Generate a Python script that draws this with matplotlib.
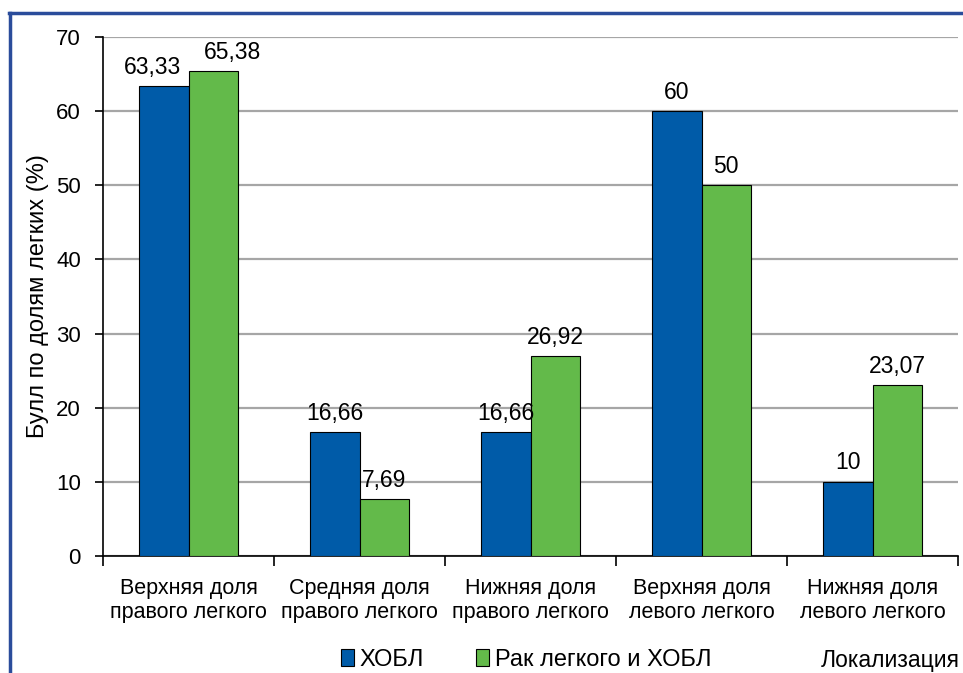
import numpy as np
import matplotlib.pyplot as plt
from matplotlib.lines import Line2D

categories = ['Верхняя доля\nправого легкого', 'Средняя доля\nправого легкого',
              'Нижняя доля\nправого легкого', 'Верхняя доля\nлевого легкого',
              'Нижняя доля\nлевого легкого']
copd = [63.33, 16.66, 16.66, 60, 10]
cancer_copd = [65.38, 7.69, 26.92, 50, 23.07]
copd_labels = ['63,33', '16,66', '16,66', '60', '10']
cancer_labels = ['65,38', '7,69', '26,92', '50', '23,07']
series_names = ['ХОБЛ', 'Рак легкого и ХОБЛ']

plt.rcParams['font.family'] = ['Liberation Sans', 'DejaVu Sans']

fig = plt.figure(figsize=(9.63, 6.73), dpi=100)
ax = fig.add_axes([103 / 963, 1 - 556 / 673, 855 / 963, 519 / 673])

blue = '#005BA8'
green = '#63BA4A'
x = np.arange(len(categories))
w = 0.287
b1 = ax.bar(x - w / 2, copd, w, color=blue, edgecolor='black', linewidth=0.8, zorder=3)
b2 = ax.bar(x + w / 2, cancer_copd, w, color=green, edgecolor='black', linewidth=0.8, zorder=3)

# the first pair of labels is pushed apart so they don't overlap (offset in points)
nudge1 = {0: -8}
nudge2 = {0: 14}
for i, (rect, lab) in enumerate(zip(b1, copd_labels)):
    ax.annotate(lab, (rect.get_x() + rect.get_width() / 2, rect.get_height() + 1.0),
                xytext=(nudge1.get(i, 0), 0), textcoords='offset points',
                ha='center', va='bottom', fontsize=16.5)
for i, (rect, lab) in enumerate(zip(b2, cancer_labels)):
    ax.annotate(lab, (rect.get_x() + rect.get_width() / 2, rect.get_height() + 1.0),
                xytext=(nudge2.get(i, 0), 0), textcoords='offset points',
                ha='center', va='bottom', fontsize=16.5)

ax.set_xlim(-0.5, len(categories) - 0.5)
ax.set_ylim(0, 70)
ax.set_yticks(range(0, 71, 10))
ax.yaxis.grid(True, color='#a6a6a6', linewidth=1.6, zorder=0)
ax.set_axisbelow(True)

ax.set_xticks(np.arange(-0.5, len(categories) + 0.5, 1))
ax.set_xticklabels([])
ax.set_xticks(x, minor=True)
ax.set_xticklabels(categories, minor=True, fontsize=15.5, linespacing=1.2)
ax.tick_params(axis='x', which='minor', length=0, pad=16)
ax.tick_params(axis='x', which='major', length=7, width=1.2, direction='out')
ax.tick_params(axis='y', length=6, width=1.2, labelsize=16, pad=10)

for s in ['top', 'right']:
    ax.spines[s].set_visible(False)
ax.spines['left'].set_linewidth(1.2)
ax.spines['bottom'].set_linewidth(1.2)

ax.set_ylabel('Булл по долям легких (%)', fontsize=17, labelpad=5)

handles = [plt.Rectangle((0, 0), 1, 1, facecolor=blue, edgecolor='black', linewidth=0.8),
           plt.Rectangle((0, 0), 1, 1, facecolor=green, edgecolor='black', linewidth=0.8)]
fig.legend(handles, series_names, loc='center', bbox_to_anchor=(526 / 963, 1 - 660 / 673),
           ncol=2, frameon=False, fontsize=17, handlelength=0.55, handleheight=0.75,
           handletextpad=0.25, columnspacing=2.2)
fig.text(960 / 963, 1 - 660 / 673, 'Локализация', ha='right', va='center', fontsize=16.5)

# blue frame (left and top edges)
frame_color = '#2A4C9B'
fig.add_artist(Line2D([10 / 963, 10 / 963], [0, 1 - 13 / 673], color=frame_color, linewidth=2.5))
fig.add_artist(Line2D([9 / 963, 1], [1 - 13 / 673, 1 - 13 / 673], color=frame_color, linewidth=2.5))

fig.savefig('out.png', dpi=100)
